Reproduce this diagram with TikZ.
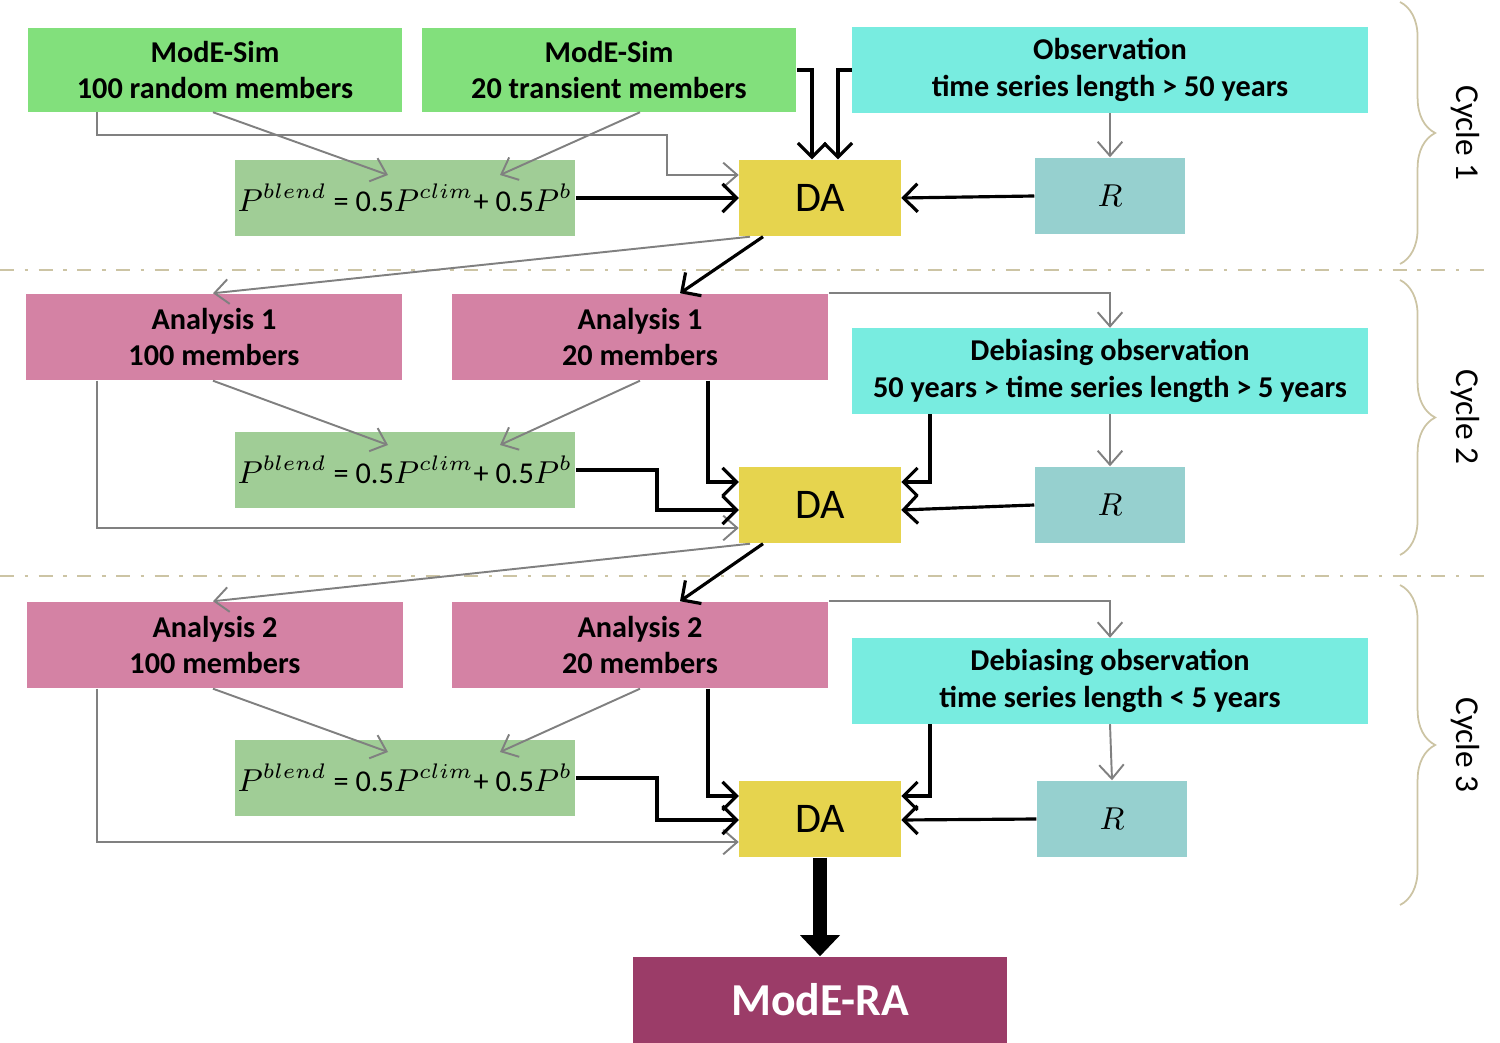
\documentclass[tikz,border=0pt]{standalone}
\usepackage{fontspec}
\setmainfont{Carlito}
\usetikzlibrary{arrows.meta, decorations.pathreplacing}

\definecolor{simgreen}{HTML}{82E07C}
\definecolor{blendgreen}{HTML}{A0CD96}
\definecolor{obscyan}{HTML}{78ECE0}
\definecolor{rteal}{HTML}{96D0CF}
\definecolor{dayellow}{HTML}{E6D44E}
\definecolor{anapink}{HTML}{D482A4}
\definecolor{ramaroon}{HTML}{9B3C68}
\definecolor{bracetan}{HTML}{CCC4A4}

\tikzset{
    box/.style={inner sep=0pt, align=center, font=\bfseries\fontsize{8.6}{10.5}\selectfont},
    sim/.style={box, fill=simgreen, minimum width=3.74cm, minimum height=0.83cm},
    obs/.style={box, fill=obscyan, minimum width=5.15cm, minimum height=0.85cm},
    ana/.style={box, fill=anapink, minimum width=3.76cm, minimum height=0.86cm},
    blend/.style={inner sep=0pt, fill=blendgreen, minimum width=3.4cm, minimum height=0.76cm,
                  font=\fontsize{8.6}{10}\selectfont},
    da/.style={inner sep=0pt, fill=dayellow, minimum width=1.61cm, minimum height=0.76cm,
               font=\fontsize{12}{14}\selectfont},
    rr/.style={inner sep=0pt, fill=rteal, minimum width=1.5cm, minimum height=0.76cm,
               font=\fontsize{9}{10}\selectfont},
    gy/.style={draw=gray, line width=0.55pt, -{Straight Barb[length=4pt,width=7pt]}},
    bk/.style={draw=black, line width=0.9pt, -{Straight Barb[length=4pt,width=8pt]}},
    cyc/.style={bracetan, line width=0.5pt, decorate, decoration={brace, amplitude=10pt}},
    sep/.style={bracetan, line width=0.6pt, dash pattern=on 4pt off 3pt on 1pt off 3pt},
}
\newcommand{\blendtxt}{$P^{blend}$ = 0.5$P^{clim}$+ 0.5$P^{b}$}

\begin{document}
\begin{tikzpicture}[x=0.01cm, y=-0.01cm]
    \useasboundingbox (0,0) rectangle (1500,1043);

    % cycle 1
    \node[sim] (ms1) at (215,70) {ModE-Sim\\100 random members};
    \node[sim] (ms2) at (609,70) {ModE-Sim\\20 transient members};
    \node[obs] (obs1) at (1110,70) {Observation\\time series length > 50 years};
    \node[blend] (pb1) at (405,198) {\blendtxt};
    \node[da] (da1) at (820,198) {DA};
    \node[rr] (r1) at (1110,196) {$R$};

    \draw[gy] (97,0 |- ms1.south) |- (667,135) |- (da1.west |- 0,175);
    \draw[gy] (213,0 |- ms1.south) -- (388,175);
    \draw[gy] (640,0 |- ms2.south) -- (500,175);
    \draw[bk] (ms2.east |- 0,70) -| (812,0 |- da1.north);
    \draw[bk] (obs1.west |- 0,70) -| (838,0 |- da1.north);
    \draw[bk] (pb1.east) -- (da1.west);
    \draw[bk] (r1.west) -- (da1.east);
    \draw[gy] (obs1.south) -- (r1.north);

    \draw[sep] (0,270) -- (1493,270);

    % cycle 2
    \node[ana] (a1w) at (214,337) {Analysis 1\\100 members};
    \node[ana] (a1n) at (640,337) {Analysis 1\\20 members};
    \node[obs] (obs2) at (1110,371) {Debiasing observation\\50 years > time series length > 5 years};
    \node[blend] (pb2) at (405,470) {\blendtxt};
    \node[da] (da2) at (820,505) {DA};
    \node[rr] (r2) at (1110,505) {$R$};

    \draw[gy] (750,0 |- da1.south) -- (213,0 |- a1w.north);
    \draw[bk] (763,0 |- da1.south) -- (680,0 |- a1n.north);
    \draw[gy] (a1n.north east) -| (obs2.north);
    \draw[gy] (97,0 |- a1w.south) |- (da2.west |- 0,528);
    \draw[gy] (213,0 |- a1w.south) -- (388,445);
    \draw[gy] (640,0 |- a1n.south) -- (500,445);
    \draw[bk] (pb2.east |- 0,470) -| (657,510) -- (da2.west |- 0,510);
    \draw[bk] (708,0 |- a1n.south) |- (da2.west |- 0,482);
    \draw[bk] (930,0 |- obs2.south) |- (da2.east |- 0,482);
    \draw[bk] (r2.west) -- (da2.east |- 0,510);
    \draw[gy] (obs2.south) -- (r2.north);

    \draw[sep] (0,576) -- (1493,576);

    % cycle 3
    \node[ana] (a2w) at (215,645) {Analysis 2\\100 members};
    \node[ana] (a2n) at (640,645) {Analysis 2\\20 members};
    \node[obs] (obs3) at (1110,681) {Debiasing observation\\time series length < 5 years};
    \node[blend] (pb3) at (405,778) {\blendtxt};
    \node[da] (da3) at (820,819) {DA};
    \node[rr] (r3) at (1112,819) {$R$};

    \draw[gy] (750,0 |- da2.south) -- (213,0 |- a2w.north);
    \draw[bk] (763,0 |- da2.south) -- (680,0 |- a2n.north);
    \draw[gy] (a2n.north east) -| (obs3.north);
    \draw[gy] (97,0 |- a2w.south) |- (da3.west |- 0,842);
    \draw[gy] (213,0 |- a2w.south) -- (388,752);
    \draw[gy] (640,0 |- a2n.south) -- (500,752);
    \draw[bk] (pb3.east |- 0,778) -| (657,820) -- (da3.west |- 0,820);
    \draw[bk] (708,0 |- a2n.south) |- (da3.west |- 0,796);
    \draw[bk] (930,0 |- obs3.south) |- (da3.east |- 0,796);
    \draw[bk] (r3.west) -- (da3.east |- 0,820);
    \draw[gy] (obs3.south) -- (r3.north);

    % result
    \node[box, fill=ramaroon, text=white, minimum width=3.74cm, minimum height=0.86cm,
          font=\bfseries\fontsize{13}{15}\selectfont] (ra) at (820,1000) {ModE-RA};
    \draw[line width=4pt, -{Triangle[length=6pt,width=11pt]}] (da3.south) -- (ra.north);

    % cycles
    \draw[cyc] (1400,2) -- (1400,264);
    \draw[cyc] (1400,280) -- (1400,555);
    \draw[cyc] (1400,585) -- (1400,905);
    \node[rotate=-90, font=\fontsize{9.5}{11}\selectfont] (c1) at (1465,133) {Cycle 1};
    \node[rotate=-90, font=\fontsize{9.5}{11}\selectfont] (c2) at (1465,417) {Cycle 2};
    \node[rotate=-90, font=\fontsize{9.5}{11}\selectfont] (c3) at (1465,745) {Cycle 3};
\end{tikzpicture}
\end{document}
